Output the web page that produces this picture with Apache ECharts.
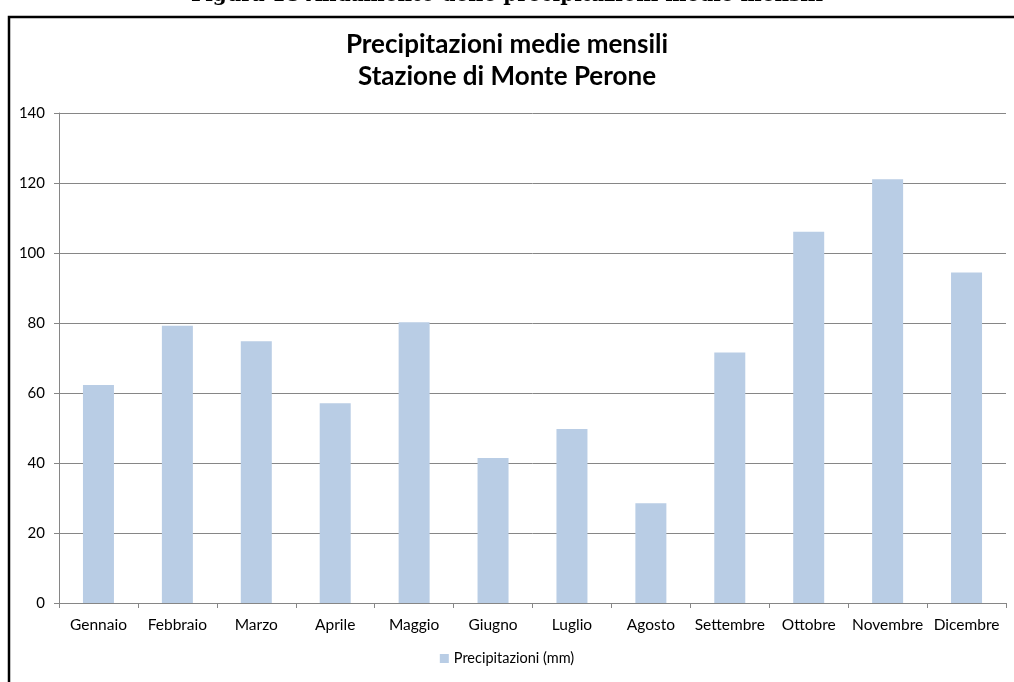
<!DOCTYPE html>
<html>
<head>
<meta charset="utf-8">
<script src="https://cdn.jsdelivr.net/npm/echarts@6/dist/echarts.min.js"></script>
<style>
  html, body { margin: 0; padding: 0; background: #fff; }
  #chart { width: 1014px; height: 682px; }
</style>
</head>
<body>
<div id="chart"></div>
<script>
const months = ['Gennaio', 'Febbraio', 'Marzo', 'Aprile', 'Maggio', 'Giugno',
  'Luglio', 'Agosto', 'Settembre', 'Ottobre', 'Novembre', 'Dicembre']
const precipitazioni = [62.3, 79.2, 74.8, 57.1, 80.2, 41.4, 49.7, 28.5, 71.6, 106.1, 121.1, 94.4]
const yTicks = [0, 20, 40, 60, 80, 100, 120, 140]

const chart = echarts.init(document.getElementById('chart'))
chart.setOption({
  animation: false,
  backgroundColor: '#fff',
  title: {
    text: 'Precipitazioni medie mensili\nStazione di Monte Perone',
    left: 'center',
    top: 24,
    textStyle: {
      fontFamily: 'Lato',
      fontWeight: 'bold',
      fontSize: 26,
      lineHeight: 32,
      color: '#000'
    }
  },
  graphic: [
    {
      type: 'text',
      left: 'center',
      top: -14,
      style: {
        text: 'Figura 18 Andamento delle precipitazioni medie mensili',
        font: 'bold 20px "DejaVu Serif"',
        fill: '#000'
      }
    },
    {
      type: 'rect',
      shape: { x: 9, y: 17, width: 1010, height: 700 },
      style: { fill: 'none', stroke: '#000', lineWidth: 2.5 }
    }
  ],
  legend: {
    bottom: 11,
    left: 'center',
    itemWidth: 9,
    itemHeight: 9,
    itemGap: 4,
    icon: 'rect',
    textStyle: { fontFamily: 'Lato', fontSize: 14.5, color: '#000' },
    data: ['Precipitazioni (mm)']
  },
  grid: { left: 59, right: 8, top: 113, bottom: 79 },
  xAxis: {
    type: 'category',
    data: months,
    axisLine: { lineStyle: { color: '#868686' } },
    axisTick: { show: true, length: 5, lineStyle: { color: '#868686' } },
    axisLabel: { color: '#000', fontFamily: 'Lato', fontSize: 15.5, margin: 14, interval: 0 }
  },
  yAxis: {
    type: 'value',
    min: 0,
    max: yTicks[yTicks.length - 1],
    interval: 20,
    axisLine: { show: true, lineStyle: { color: '#868686' } },
    axisTick: { show: true, length: 5, lineStyle: { color: '#868686' } },
    axisLabel: { color: '#000', fontFamily: 'Lato', fontSize: 15, margin: 14 },
    splitLine: { lineStyle: { color: '#868686' } }
  },
  series: [{
    name: 'Precipitazioni (mm)',
    type: 'bar',
    data: precipitazioni,
    barWidth: 31,
    itemStyle: { color: '#B9CDE5' }
  }]
})
</script>
</body>
</html>
